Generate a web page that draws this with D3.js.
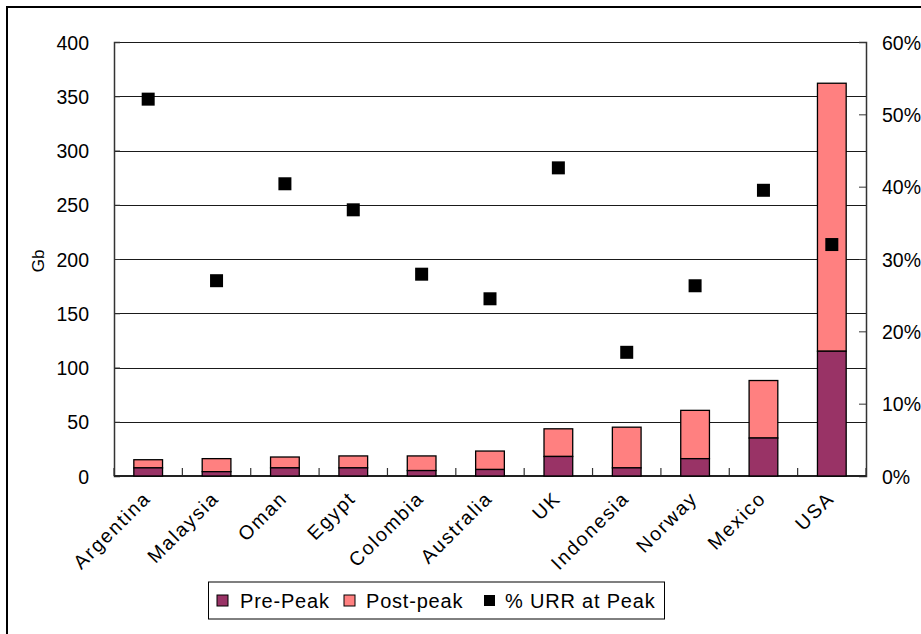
<!DOCTYPE html>
<html>
<head>
<meta charset="utf-8">
<script src="https://cdn.jsdelivr.net/npm/d3@7"></script>
<style>
  html, body { margin: 0; padding: 0; background: #fff; }
  svg { display: block; font-family: "Liberation Sans", Arial, sans-serif; }
</style>
</head>
<body>
<svg id="chart" width="921" height="634"></svg>
<script>
// Oil production by country, split at the production peak (Gb)
const countries = ["Argentina", "Malaysia", "Oman", "Egypt", "Colombia", "Australia",
                   "UK", "Indonesia", "Norway", "Mexico", "USA"];
const prePeak  = [7.5, 4, 7.5, 7.5, 5, 6, 18, 7.5, 16, 35, 115];
const postPeak = [7.5, 12, 10, 11, 13.5, 17, 25.5, 37.5, 44.5, 53, 247];
// Share of ultimately recoverable resources produced at peak
const urrAtPeak = [0.521, 0.270, 0.404, 0.368, 0.279, 0.245, 0.426, 0.171, 0.263, 0.395, 0.320];

const leftTicks  = [0, 50, 100, 150, 200, 250, 300, 350, 400];
const rightTicks = [0, 0.1, 0.2, 0.3, 0.4, 0.5, 0.6];
const seriesNames = ["Pre-Peak", "Post-peak", "% URR at Peak"];
const colors = { pre: "#993366", post: "#FF8080", marker: "#000000" };

const svg = d3.select("#chart");
const plot = { left: 114, right: 866, top: 42, bottom: 476 };

// outer frame (runs past the right and bottom edges of the canvas)
svg.append("rect")
  .attr("x", 7).attr("y", 7).attr("width", 960).attr("height", 660)
  .attr("fill", "none").attr("stroke", "#000").attr("stroke-width", 2);

const x = d3.scaleBand().domain(countries).range([plot.left, plot.right]).padding(0);
const y = d3.scaleLinear().domain([0, 400]).range([plot.bottom, plot.top]);
const yR = d3.scaleLinear().domain([0, 0.6]).range([plot.bottom, plot.top]);
const barW = x.step() * 0.42;

// horizontal gridlines
svg.append("g").selectAll("line").data(leftTicks.filter(d => d > 0)).join("line")
  .attr("x1", plot.left).attr("x2", plot.right)
  .attr("y1", d => Math.round(y(d)) + 0.5).attr("y2", d => Math.round(y(d)) + 0.5)
  .attr("stroke", "#1a1a1a").attr("stroke-width", 1);

// left axis
const gL = svg.append("g").attr("transform", `translate(${plot.left},0)`)
  .call(d3.axisLeft(y).tickValues(leftTicks).tickSize(-6).tickPadding(25));
gL.select(".domain").attr("stroke", "#333").attr("stroke-width", 1.5);
gL.selectAll(".tick line").attr("stroke", "#333");
gL.selectAll("text").attr("font-size", "19.5px").attr("fill", "#000")
  .attr("font-family", "Liberation Sans, Arial, sans-serif").attr("dy", "0.36em");

// right axis
const gR = svg.append("g").attr("transform", `translate(${plot.right},0)`)
  .call(d3.axisRight(yR).tickValues(rightTicks).tickFormat(d3.format(".0%")).tickSize(-7).tickPadding(16));
gR.select(".domain").attr("stroke", "#333").attr("stroke-width", 1.5);
gR.selectAll(".tick line").attr("stroke", "#333");
gR.selectAll("text").attr("font-size", "19.5px").attr("fill", "#000")
  .attr("font-family", "Liberation Sans, Arial, sans-serif").attr("dy", "0.36em");

// category axis: separator ticks pointing up into the plot
const boundaries = countries.map(c => x(c)).concat([plot.right]);
svg.append("g").selectAll("line").data(boundaries).join("line")
  .attr("x1", d => d).attr("x2", d => d)
  .attr("y1", plot.bottom).attr("y2", plot.bottom - 8)
  .attr("stroke", "#333").attr("stroke-width", 1.2);
svg.append("line")
  .attr("x1", plot.left).attr("x2", plot.right)
  .attr("y1", plot.bottom).attr("y2", plot.bottom)
  .attr("stroke", "#222").attr("stroke-width", 1.8);

// stacked bars
const bars = svg.append("g");
countries.forEach((c, i) => {
  const cx = x(c) + x.bandwidth() / 2;
  const total = prePeak[i] + postPeak[i];
  bars.append("rect")
    .attr("x", cx - barW / 2).attr("width", barW)
    .attr("y", y(total)).attr("height", y(prePeak[i]) - y(total))
    .attr("fill", colors.post).attr("stroke", "#000").attr("stroke-width", 1.3);
  bars.append("rect")
    .attr("x", cx - barW / 2).attr("width", barW)
    .attr("y", y(prePeak[i])).attr("height", y(0) - y(prePeak[i]))
    .attr("fill", colors.pre).attr("stroke", "#000").attr("stroke-width", 1.3);
});

// % URR markers
const ms = 13;
svg.append("g").selectAll("rect").data(countries).join("rect")
  .attr("x", c => x(c) + x.bandwidth() / 2 - ms / 2)
  .attr("y", (c, i) => yR(urrAtPeak[i]) - ms / 2)
  .attr("width", ms).attr("height", ms)
  .attr("fill", colors.marker);

// category labels, rotated
svg.append("g").selectAll("text").data(countries).join("text")
  .attr("transform", c => `translate(${x(c) + x.bandwidth() / 2 - 6},${plot.bottom + 14}) rotate(-45)`)
  .attr("text-anchor", "end")
  .attr("dy", "0.7em")
  .attr("font-size", "19.5px")
  .attr("letter-spacing", "1.8px")
  .text(c => c);

// y-axis title
svg.append("text")
  .attr("transform", "translate(38,261) rotate(-90)")
  .attr("text-anchor", "middle").attr("dy", "0.35em")
  .attr("font-size", "17px")
  .text("Gb");

// legend
const lg = svg.append("g");
lg.append("rect").attr("x", 208.5).attr("y", 582).attr("width", 456).attr("height", 37)
  .attr("fill", "#fff").attr("stroke", "#000").attr("stroke-width", 1);
const legendItems = [
  { name: seriesNames[0], color: colors.pre, sx: 217, tx: 240, stroke: true },
  { name: seriesNames[1], color: colors.post, sx: 344, tx: 366, stroke: true },
  { name: seriesNames[2], color: colors.marker, sx: 484, tx: 505, stroke: false }
];
legendItems.forEach(d => {
  lg.append("rect").attr("x", d.sx).attr("y", 595).attr("width", 11).attr("height", 11)
    .attr("fill", d.color).attr("stroke", "#000").attr("stroke-width", d.stroke ? 1 : 0);
  lg.append("text").attr("x", d.tx).attr("y", 601).attr("dy", "0.36em")
    .attr("font-size", "20px").attr("letter-spacing", "0.8px").text(d.name);
});
</script>
</body>
</html>
